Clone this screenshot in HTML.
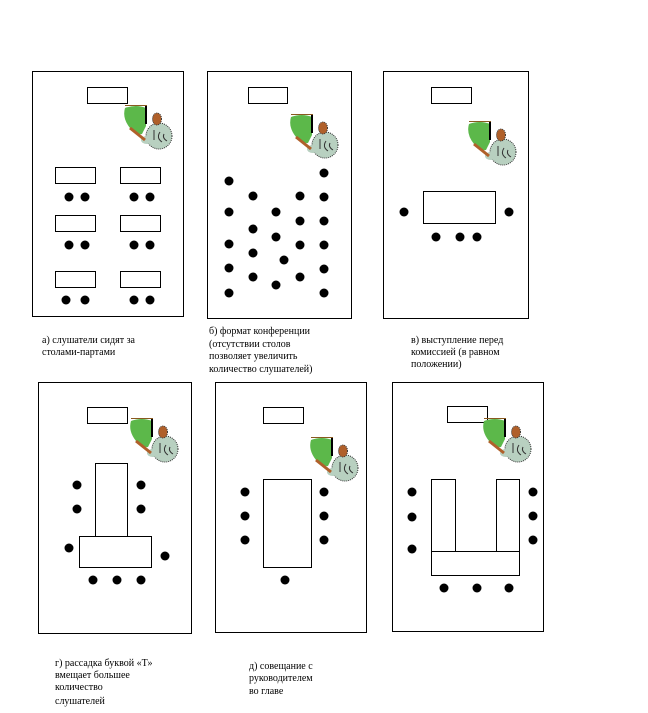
<!DOCTYPE html>
<html><head><meta charset="utf-8"><style>
html,body{margin:0;padding:0;background:#fff;}
svg{display:block;}
text{font-family:"Liberation Serif","DejaVu Serif",serif;font-size:10px;fill:#000;}
</style></head><body>
<svg width="648" height="713" xmlns="http://www.w3.org/2000/svg">
<defs>
<g id="t">
<path d="M3,4 Q0,14 8,24 Q14,31 20,30 L24,22 L24,4 Q14,0 3,4 Z" fill="#5cb84a"/>
<line x1="3" y1="1.5" x2="25" y2="1.5" stroke="#8a5a20" stroke-width="1"/>
<line x1="24" y1="2" x2="24" y2="20" stroke="#000" stroke-width="2"/>
<ellipse cx="37" cy="32" rx="13" ry="13" fill="#b8d0c0" stroke="#333" stroke-dasharray="1,1"/>
<ellipse cx="25" cy="36" rx="6" ry="4" fill="#b8d0c0"/>
<ellipse cx="35" cy="15" rx="4.5" ry="6" fill="#b0602a" stroke="#333" stroke-dasharray="1,1"/>
<path d="M8,24 L23,36" stroke="#b0602a" stroke-width="3"/>
<path d="M32,26 L32,36 M38,28 Q34,34 40,38 M42,30 Q40,34 45,37" stroke="#333" fill="none"/>
</g>
</defs>
<g fill="none" stroke="#000" stroke-width="1">
<rect x="32.5" y="71.5" width="151" height="245"/>
<rect x="207.5" y="71.5" width="144" height="247"/>
<rect x="383.5" y="71.5" width="145" height="247"/>
<rect x="38.5" y="382.5" width="153" height="251"/>
<rect x="215.5" y="382.5" width="151" height="250"/>
<rect x="392.5" y="382.5" width="151" height="249"/>
<rect x="87.5" y="87.5" width="40" height="16"/>
<rect x="248.5" y="87.5" width="39" height="16"/>
<rect x="431.5" y="87.5" width="40" height="16"/>
<rect x="87.5" y="407.5" width="40" height="16"/>
<rect x="263.5" y="407.5" width="40" height="16"/>
<rect x="447.5" y="406.5" width="40" height="16"/>
<rect x="55.5" y="167.5" width="40" height="16"/><rect x="120.5" y="167.5" width="40" height="16"/>
<rect x="55.5" y="215.5" width="40" height="16"/><rect x="120.5" y="215.5" width="40" height="16"/>
<rect x="55.5" y="271.5" width="40" height="16"/><rect x="120.5" y="271.5" width="40" height="16"/>
<rect x="423.5" y="191.5" width="72" height="32"/>
<rect x="95.5" y="463.5" width="32" height="73"/>
<rect x="79.5" y="536.5" width="72" height="31"/>
<rect x="263.5" y="479.5" width="48" height="88"/>
<rect x="431.5" y="479.5" width="24" height="72"/>
<rect x="496.5" y="479.5" width="23" height="72"/>
<rect x="431.5" y="551.5" width="88" height="24"/>
</g>
<use href="#t" x="122" y="104"/>
<use href="#t" x="288" y="113"/>
<use href="#t" x="466" y="120"/>
<use href="#t" x="128" y="417"/>
<use href="#t" x="308" y="436"/>
<use href="#t" x="481" y="417"/>
<g fill="#000">
<circle cx="69" cy="197" r="4.5"/><circle cx="85" cy="197" r="4.5"/><circle cx="134" cy="197" r="4.5"/><circle cx="150" cy="197" r="4.5"/>
<circle cx="69" cy="245" r="4.5"/><circle cx="85" cy="245" r="4.5"/><circle cx="134" cy="245" r="4.5"/><circle cx="150" cy="245" r="4.5"/>
<circle cx="66" cy="300" r="4.5"/><circle cx="85" cy="300" r="4.5"/><circle cx="134" cy="300" r="4.5"/><circle cx="150" cy="300" r="4.5"/>
<circle cx="229" cy="181" r="4.5"/><circle cx="229" cy="212" r="4.5"/><circle cx="229" cy="244" r="4.5"/><circle cx="229" cy="268" r="4.5"/><circle cx="229" cy="293" r="4.5"/>
<circle cx="253" cy="196" r="4.5"/><circle cx="253" cy="229" r="4.5"/><circle cx="253" cy="253" r="4.5"/><circle cx="253" cy="277" r="4.5"/>
<circle cx="276" cy="212" r="4.5"/><circle cx="276" cy="237" r="4.5"/><circle cx="284" cy="260" r="4.5"/><circle cx="276" cy="285" r="4.5"/>
<circle cx="300" cy="196" r="4.5"/><circle cx="300" cy="221" r="4.5"/><circle cx="300" cy="245" r="4.5"/><circle cx="300" cy="277" r="4.5"/>
<circle cx="324" cy="173" r="4.5"/><circle cx="324" cy="197" r="4.5"/><circle cx="324" cy="221" r="4.5"/><circle cx="324" cy="245" r="4.5"/><circle cx="324" cy="269" r="4.5"/><circle cx="324" cy="293" r="4.5"/>
<circle cx="404" cy="212" r="4.5"/><circle cx="509" cy="212" r="4.5"/><circle cx="436" cy="237" r="4.5"/><circle cx="460" cy="237" r="4.5"/><circle cx="477" cy="237" r="4.5"/>
<circle cx="77" cy="485" r="4.5"/><circle cx="77" cy="509" r="4.5"/><circle cx="141" cy="485" r="4.5"/><circle cx="141" cy="509" r="4.5"/>
<circle cx="69" cy="548" r="4.5"/><circle cx="165" cy="556" r="4.5"/><circle cx="93" cy="580" r="4.5"/><circle cx="117" cy="580" r="4.5"/><circle cx="141" cy="580" r="4.5"/>
<circle cx="245" cy="492" r="4.5"/><circle cx="245" cy="516" r="4.5"/><circle cx="245" cy="540" r="4.5"/><circle cx="324" cy="492" r="4.5"/><circle cx="324" cy="516" r="4.5"/><circle cx="324" cy="540" r="4.5"/><circle cx="285" cy="580" r="4.5"/>
<circle cx="412" cy="492" r="4.5"/><circle cx="412" cy="517" r="4.5"/><circle cx="412" cy="549" r="4.5"/><circle cx="533" cy="492" r="4.5"/><circle cx="533" cy="516" r="4.5"/><circle cx="533" cy="540" r="4.5"/>
<circle cx="444" cy="588" r="4.5"/><circle cx="477" cy="588" r="4.5"/><circle cx="509" cy="588" r="4.5"/>
</g>
<text x="42" y="343">а) слушатели сидят за</text>
<text x="42" y="355">столами-партами</text>
<text x="209" y="334">б) формат конференции</text>
<text x="209" y="347">(отсутствии столов</text>
<text x="209" y="359">позволяет увеличить</text>
<text x="209" y="372">количество слушателей)</text>
<text x="411" y="343">в)  выступление перед</text>
<text x="411" y="355">комиссией (в равном</text>
<text x="411" y="367">положении)</text>
<text x="55" y="666">г) рассадка буквой «Т»</text>
<text x="55" y="678">вмещает большее</text>
<text x="55" y="690">количество</text>
<text x="55" y="704">слушателей</text>
<text x="249" y="669">д) совещание с</text>
<text x="249" y="681">руководителем</text>
<text x="249" y="694">во главе</text>
</svg>
</body></html>
